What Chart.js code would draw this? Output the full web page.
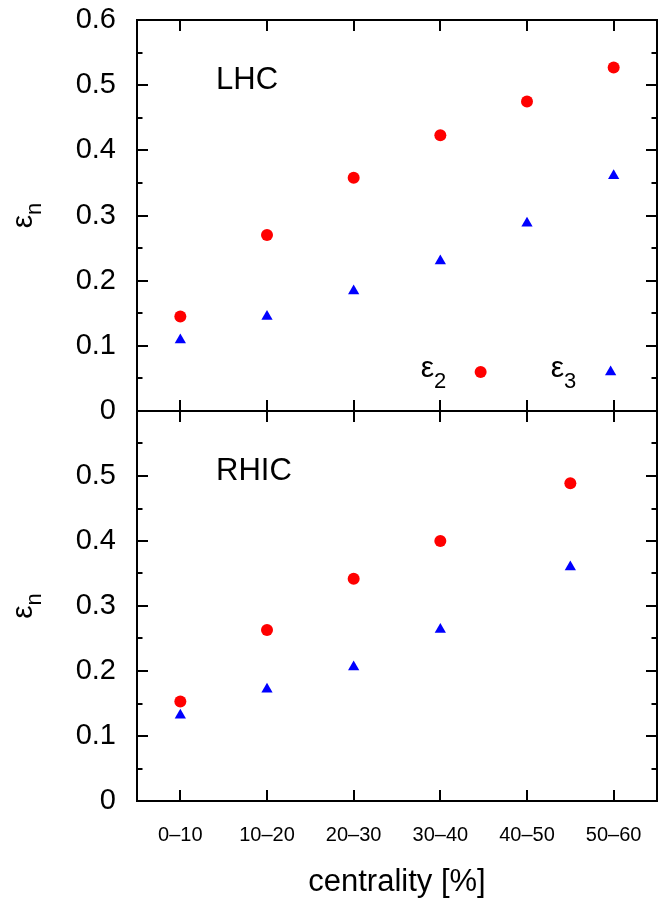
<!DOCTYPE html>
<html>
<head>
<meta charset="utf-8">
<script src="https://cdn.jsdelivr.net/npm/chart.js@4/dist/chart.umd.min.js"></script>
<style>
html,body{margin:0;padding:0;background:#fff;}
#wrap{position:relative;width:670px;height:898px;overflow:hidden;}
canvas{position:absolute;left:0;}
#c1{top:0;}
#c2{top:400px;}
</style>
</head>
<body>
<div id="wrap">
<canvas id="c2" width="670" height="498"></canvas>
<canvas id="c1" width="670" height="440"></canvas>
</div>
<script>
// ---- data ----
const tickLabels = ['0–10', '10–20', '20–30', '30–40', '40–50', '50–60'];
const tickCenters = [5, 15, 25, 35, 45, 55];
const yTickValues = [0, 0.1, 0.2, 0.3, 0.4, 0.5, 0.6];

const lhcCentrality = [5, 15, 25, 35, 45, 55];
const lhcEps2 = [0.145, 0.270, 0.358, 0.423, 0.475, 0.527];
const lhcEps3 = [0.109, 0.145, 0.184, 0.230, 0.288, 0.361];

const rhicCentrality = [5, 15, 25, 35, 50];
const rhicEps2 = [0.153, 0.263, 0.342, 0.400, 0.489];
const rhicEps3 = [0.132, 0.172, 0.206, 0.264, 0.360];

const seriesNames = ['ε', 'ε'];
const seriesSubs = ['2', '3'];
const panelNames = ['LHC', 'RHIC'];
const yTitleMain = 'ε';
const yTitleSub = 'n';
const xTitle = 'centrality [%]';

// ---- styles ----
const FONT = '"Liberation Sans", Arial, Helvetica, sans-serif';
const RED = '#ff0000';
const BLUE = '#0000ff';
const MAJ = 11, MIN = 5.5;

function pts(xs, ys) { return xs.map((x, i) => ({x: x, y: ys[i]})); }

function drawSubText(ctx, main, sub, x, y, mainSize, subSize, subShift) {
  ctx.font = mainSize + 'px ' + FONT;
  ctx.fillText(main, x, y);
  const w = ctx.measureText(main).width;
  ctx.font = subSize + 'px ' + FONT;
  ctx.fillText(sub, x + w, y + subShift);
}

const framePlugin = {
  id: 'frame',
  afterDraw(chart, args, opts) {
    const {ctx, chartArea: a, scales: {x, y}} = chart;
    ctx.save();
    ctx.strokeStyle = '#000';
    ctx.lineWidth = 2;
    ctx.beginPath();
    ctx.rect(a.left, a.top, a.right - a.left, a.bottom - a.top);
    for (const v of tickCenters) {
      const px = Math.round(x.getPixelForValue(v));
      ctx.moveTo(px, a.bottom); ctx.lineTo(px, a.bottom - MAJ);
      ctx.moveTo(px, a.top); ctx.lineTo(px, a.top + MAJ);
    }
    for (let i = 0; i < yTickValues.length; i++) {
      const v = yTickValues[i];
      const py = Math.round(y.getPixelForValue(v));
      ctx.moveTo(a.left, py); ctx.lineTo(a.left + MAJ, py);
      ctx.moveTo(a.right, py); ctx.lineTo(a.right - MAJ, py);
      if (i < yTickValues.length - 1) {
        const pm = Math.round(y.getPixelForValue((v + yTickValues[i + 1]) / 2));
        ctx.moveTo(a.left, pm); ctx.lineTo(a.left + MIN, pm);
        ctx.moveTo(a.right, pm); ctx.lineTo(a.right - MIN, pm);
      }
    }
    ctx.stroke();

    // panel name
    ctx.fillStyle = '#000';
    ctx.textBaseline = 'alphabetic';
    ctx.textAlign = 'left';
    ctx.font = '31px ' + FONT;
    ctx.fillText(opts.name, a.left + 79, a.top + 69);

    // y title (rotated, with subscript)
    ctx.save();
    const cy = (a.top + a.bottom) / 2;
    ctx.translate(31.5, cy);
    ctx.rotate(-Math.PI / 2);
    ctx.font = '30px ' + FONT;
    const w1 = ctx.measureText(yTitleMain).width;
    ctx.font = '22px ' + FONT;
    const w2 = ctx.measureText(yTitleSub).width;
    drawSubText(ctx, yTitleMain, yTitleSub, -(w1 + w2) / 2, 0, 30, 22, 9);
    ctx.restore();

    // legend
    if (opts.legend) {
      const ds = chart.data.datasets;
      const legendX = [39.65, 54.65];
      const ly = y.getPixelForValue(0.06);
      for (let i = 0; i < 2; i++) {
        const mx = x.getPixelForValue(legendX[i]);
        ctx.fillStyle = '#000';
        drawSubText(ctx, seriesNames[i], seriesSubs[i], mx - 60, ly + 5, 30, 22, 11);
        ctx.fillStyle = ds[i].backgroundColor;
        ctx.beginPath();
        const r = ds[i].pointRadius;
        if (i === 0) {
          ctx.arc(mx, ly, r, 0, Math.PI * 2);
        } else {
          ctx.moveTo(mx, ly - r);
          ctx.lineTo(mx + r * Math.sin(Math.PI * 2 / 3), ly - r * Math.cos(Math.PI * 2 / 3));
          ctx.lineTo(mx + r * Math.sin(Math.PI * 4 / 3), ly - r * Math.cos(Math.PI * 4 / 3));
          ctx.closePath();
        }
        ctx.fill();
      }
    }
    ctx.restore();
  }
};

function makeDatasets(xs, e2, e3) {
  return [
    {label: 'ε2', data: pts(xs, e2), pointStyle: 'circle', pointRadius: 6, backgroundColor: RED, borderColor: RED, borderWidth: 0, showLine: false},
    {label: 'ε3', data: pts(xs, e3), pointStyle: 'triangle', pointRadius: 6.5, backgroundColor: BLUE, borderColor: BLUE, borderWidth: 0, showLine: false}
  ];
}

function yScale(hideTop) {
  return {
    min: 0, max: 0.6,
    grid: {display: false, drawTicks: false},
    border: {display: false},
    afterFit(s) { s.width = 137; s.paddingTop = 0; s.paddingBottom = 0; },
    afterBuildTicks(s) { s.ticks = yTickValues.map(v => ({value: v})); },
    ticks: {
      padding: 21,
      color: '#000',
      font: {family: FONT, size: 29},
      callback(v) {
        if (hideTop && v > 0.55) return '';
        return String(Math.round(v * 10) / 10);
      }
    }
  };
}

const common = {
  responsive: false,
  animation: false,
  events: [],
};

new Chart(document.getElementById('c1'), {
  type: 'scatter',
  data: {datasets: makeDatasets(lhcCentrality, lhcEps2, lhcEps3)},
  options: Object.assign({}, common, {
    layout: {padding: {left: 0, right: 13, top: 20, bottom: 29}},
    scales: {
      x: {type: 'linear', min: 0, max: 60, display: false},
      y: yScale(false)
    },
    plugins: {legend: {display: false}, tooltip: {enabled: false}, frame: {name: panelNames[0], legend: true}}
  }),
  plugins: [framePlugin]
});

new Chart(document.getElementById('c2'), {
  type: 'scatter',
  data: {datasets: makeDatasets(rhicCentrality, rhicEps2, rhicEps3)},
  options: Object.assign({}, common, {
    layout: {padding: {left: 0, right: 13, top: 11, bottom: 0}},
    scales: {
      x: {
        type: 'linear', min: 0, max: 60,
        grid: {display: false, drawTicks: false},
        border: {display: false},
        afterFit(s) { s.height = 97; s.paddingLeft = 0; s.paddingRight = 0; },
        afterBuildTicks(s) { s.ticks = tickCenters.map(v => ({value: v})); },
        ticks: {
          padding: 22,
          color: '#000',
          maxRotation: 0,
          autoSkip: false,
          font: {family: FONT, size: 20},
          callback(v) { const i = tickCenters.indexOf(v); return i >= 0 ? tickLabels[i] : ''; }
        },
        title: {display: true, text: xTitle, color: '#000', font: {family: FONT, size: 31, lineHeight: 1.0}, padding: 0}
      },
      y: yScale(true)
    },
    plugins: {legend: {display: false}, tooltip: {enabled: false}, frame: {name: panelNames[1], legend: false}}
  }),
  plugins: [framePlugin]
});
</script>
</body>
</html>
